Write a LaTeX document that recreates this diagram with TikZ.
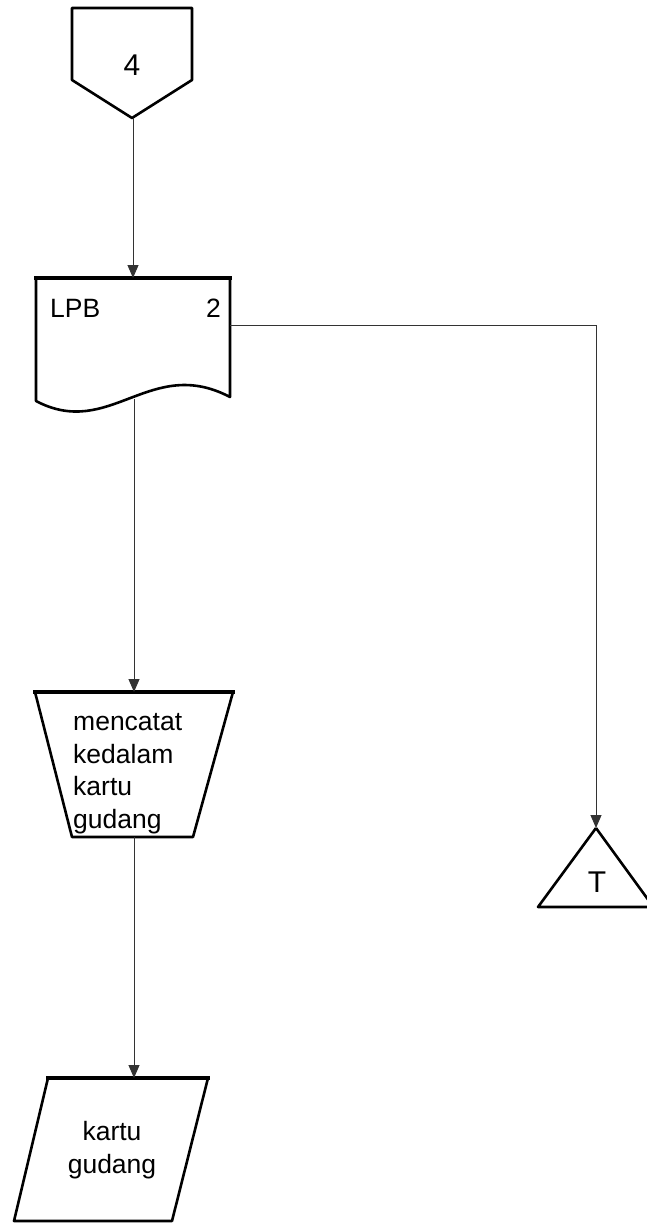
\documentclass[tikz,border=0pt]{standalone}
\usepackage{fontspec}
\setmainfont{Liberation Sans}
\usetikzlibrary{arrows.meta}
\begin{document}
\begin{tikzpicture}[x=1pt,y=-1pt,
  shapeline/.style={line width=2.6pt,line join=round},
  topline/.style={line width=3.6pt},
  flow/.style={line width=1pt,draw=black!80,-{Triangle[width=11pt,length=13pt]}},
  lbl/.style={inner sep=0pt,font=\fontsize{26.5}{32.5}\selectfont},
  biglbl/.style={inner sep=0pt,font=\fontsize{30}{36}\selectfont}]
\useasboundingbox (0,0) rectangle (647,1223);

% off-page connector "4"
\draw[shapeline] (72,8) -- (192,8) -- (192,80) -- (132,118) -- (72,80) -- cycle;
\coordinate (opc) at (133,118);
\node[biglbl,anchor=base] (opcText) at (132,75) {4};

% document LPB
\draw[shapeline] (36,278) -- (36,401)
  .. controls (110,440) and (150,355) .. (230,397) -- (230,278);
\draw[topline] (34,278) -- (232,278);
\coordinate (docTop) at (133,278);
\coordinate (docBot) at (134,399);
\coordinate (docRight) at (230,325);
\node[lbl,anchor=base west] (docName) at (50,317) {LPB};
\node[lbl,anchor=base east] (docNum) at (221,317) {2};

% manual operation
\draw[shapeline] (35,692) -- (72,837) -- (193,837) -- (233,692);
\draw[topline] (33,692) -- (235,692);
\coordinate (opTop) at (134,692);
\coordinate (opBot) at (134,837);
\node[lbl,anchor=base west,align=left] (opText) at (73,828)
  {mencatat\\kedalam\\kartu\\gudang};

% terminal storage T
\draw[shapeline] (596,828) -- (538,907) -- (660,907);
\draw[shapeline] (596,828) -- (660,916);
\coordinate (triTop) at (596,828);
\node[biglbl,anchor=base] (triText) at (597,892) {T};

% ledger card (parallelogram)
\draw[shapeline] (48,1078) -- (14,1221) -- (172,1221) -- (208,1078);
\draw[topline] (46,1078) -- (210,1078);
\coordinate (cardTop) at (134,1078);
\node[lbl,align=center] (cardText) at (112,1150) {kartu\\gudang};

% connectors
\draw[flow] (opc) -- (docTop);
\draw[flow] (docBot) -- (opTop);
\draw[flow] (opBot) -- (cardTop);
\draw[flow] (docRight) -| (triTop);
\end{tikzpicture}
\end{document}
